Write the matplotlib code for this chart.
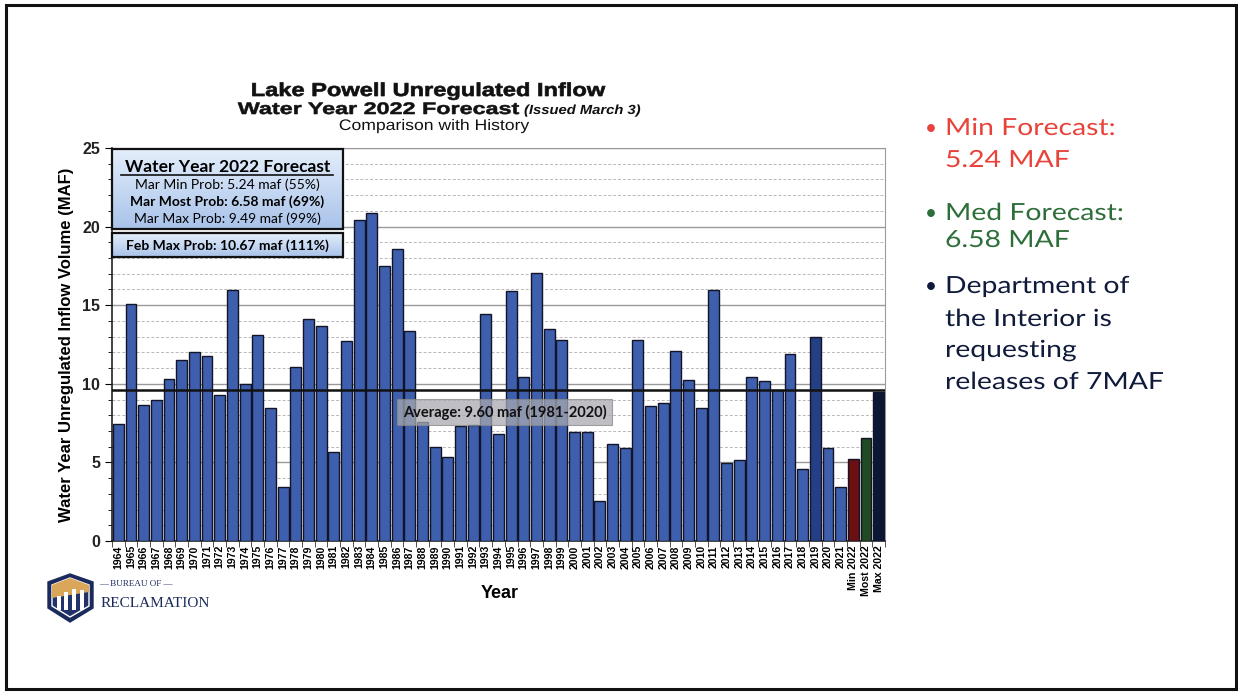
import numpy as np
import matplotlib
matplotlib.use("Agg")
import matplotlib.pyplot as plt
from matplotlib.patches import Rectangle, Polygon, PathPatch
from matplotlib.ticker import MultipleLocator
from matplotlib.textpath import TextPath
from matplotlib.font_manager import FontProperties
from matplotlib.transforms import Affine2D

# ---- data ----
years = [str(y) for y in range(1964, 2022)] + ["Min 2022", "Most 2022", "Max 2022"]
inflow = [7.45, 15.06, 8.65, 8.97, 10.33, 11.51, 12.0, 11.77, 9.29, 15.99,
          9.99, 13.1, 8.44, 3.46, 11.07, 14.14, 13.68, 5.66, 12.74, 20.4,
          20.86, 17.51, 18.55, 13.34, 7.6, 5.96, 5.32, 7.3, 7.38, 14.44,
          6.81, 15.92, 10.41, 17.07, 13.49, 12.79, 6.95, 6.95, 2.57, 6.17,
          5.9, 12.79, 8.61, 8.76, 12.11, 10.24, 8.46, 15.99, 4.96, 5.15,
          10.41, 10.2, 9.6, 11.92, 4.58, 12.96, 5.9, 3.46,
          5.24, 6.58, 9.49]
average = 9.60
forecast_lines = ["Mar Min Prob: 5.24 maf (55%)",
                  "Mar Most Prob: 6.58 maf (69%)",
                  "Mar Max Prob: 9.49 maf (99%)"]
feb_line = "Feb Max Prob: 10.67 maf (111%)"

W, H = 1238, 694
fig = plt.figure(figsize=(W / 100, H / 100), dpi=100)
fig.patch.set_facecolor("white")
pix = Affine2D().scale(1 / W, 1 / H) + fig.transFigure


def fx(x):
    return x / W


def fy(y):
    return 1 - y / H


def wide_text(px, py, s, size, sx, color, ha="left", bold_lw=0, **fkw):
    # text drawn as a path so it can be stretched sideways like the slide
    fp = FontProperties(**fkw)
    tp = TextPath((0, 0), s, size=size * 100 / 72, prop=fp)
    w = tp.get_extents().x1 * sx
    x0 = px - w / 2 if ha == "center" else (px - w if ha == "right" else px)
    path = Affine2D().scale(sx, 1).translate(x0, H - py).transform_path(tp)
    fig.add_artist(PathPatch(path, transform=pix, facecolor=color,
                             edgecolor=color if bold_lw else "none", lw=bold_lw))


# slide border
fig.add_artist(Rectangle((6, H - 689), 1230, 684, transform=pix, fill=False,
                         lw=2.2, edgecolor="#111111"))

ax = fig.add_axes([fx(112), fy(541), fx(885) - fx(112), fy(148) - fy(541)])

colors = ["#3d5fae"] * 58 + ["#6a1010", "#1f4a22", "#0c1736"]
colors[years.index("2019")] = "#243f86"
x = np.arange(len(years))
ax.bar(x, inflow, width=0.86, color=colors, edgecolor="#141428", linewidth=1.0, zorder=3)

ax.set_xlim(-0.5, len(years) - 0.5)
ax.set_ylim(0, 25)
ax.yaxis.set_major_locator(MultipleLocator(5))
ax.yaxis.set_minor_locator(MultipleLocator(1))
ax.grid(axis="y", which="major", color="#9a9a9a", lw=1.0, zorder=0)
ax.grid(axis="y", which="minor", color="#b8b8b8", lw=0.7, ls=(0, (3, 2)), zorder=0)
ax.set_xticks(x)
ax.set_xticklabels(years, rotation=90, fontsize=7.6, fontweight="bold",
                   family="Liberation Sans")
ax.set_xticks(np.arange(-0.5, len(years)), minor=True)
ax.tick_params(axis="x", which="major", length=0, pad=3)
ax.tick_params(axis="x", which="minor", length=4, color="#333333")
ax.tick_params(axis="y", which="major", length=5, labelsize=11.5)
ax.tick_params(axis="y", which="minor", length=3)
for lab in ax.get_yticklabels():
    lab.set_fontweight("bold")
    lab.set_family("Liberation Sans")
    lab.set_color("#222222")
for s in ["top", "right"]:
    ax.spines[s].set_color("#9a9a9a")
for s in ["left", "bottom"]:
    ax.spines[s].set_color("#222222")
    ax.spines[s].set_linewidth(1.2)

ax.set_ylabel("Water Year Unregulated Inflow Volume (MAF)", fontsize=12,
              fontweight="bold", family="Liberation Sans", labelpad=6)
fig.text(fx(500), fy(594), "Year", ha="center", va="center", fontsize=13,
         fontweight="bold", family="Liberation Sans")

# average line and label
ax.axhline(average, color="#111111", lw=1.8, zorder=4)
ax.text(0.508, 0.328, "Average: 9.60 maf (1981-2020)", transform=ax.transAxes,
        ha="center", va="center", fontsize=10.5, fontweight="bold", family="Lato",
        color="#111111", zorder=6,
        bbox=dict(boxstyle="square,pad=0.4", facecolor="#a9a9b0", alpha=0.75,
                  edgecolor="#888888", lw=0.8))

# forecast boxes with light gradient
grad = np.linspace(0, 1, 64).reshape(-1, 1)
cmap = matplotlib.colors.LinearSegmentedColormap.from_list("g", ["#e4eefb", "#a9c3ea"])


def ax_pt(px, py):
    return (px - 112) / 773, (541 - py) / 393


def gbox(x0, y0, x1, y1):
    ax.imshow(grad, extent=[x0, x1, y0, y1], transform=ax.transAxes, cmap=cmap,
              aspect="auto", zorder=7, clip_on=False, origin="upper")
    ax.add_patch(Rectangle((x0, y0), x1 - x0, y1 - y0, transform=ax.transAxes,
                           fill=False, edgecolor="#111111", lw=1.6, zorder=8,
                           clip_on=False))


bx0, by1 = ax_pt(112, 149)
bx1, by0 = ax_pt(343, 229)
gbox(bx0, by0, bx1, by1)
fx0, fy1 = ax_pt(112, 233)
fx1, fy0 = ax_pt(343, 257)
gbox(fx0, fy0, fx1, fy1)

cx = (bx0 + bx1) / 2
ax.text(cx, ax_pt(0, 172)[1], "Water Year 2022 Forecast", transform=ax.transAxes,
        ha="center", va="baseline", fontsize=12.5, fontweight="bold", family="Lato",
        zorder=9)
ax.plot([ax_pt(121, 0)[0], ax_pt(333, 0)[0]], [ax_pt(0, 175)[1]] * 2,
        transform=ax.transAxes, color="#111111", lw=1.2, zorder=9, clip_on=False)
for line, py, wt in zip(forecast_lines, [189, 206, 223], ["normal", "bold", "normal"]):
    ax.text(cx, ax_pt(0, py)[1], line, transform=ax.transAxes, ha="center",
            va="baseline", fontsize=10, fontweight=wt, family="Lato", zorder=9)
ax.text(cx, ax_pt(0, 250)[1], feb_line, transform=ax.transAxes, ha="center",
        va="baseline", fontsize=10, fontweight="bold", family="Lato", zorder=9)

# titles
wide_text(428, 96, "Lake Powell Unregulated Inflow", 13.5, 1.26, "#111111",
          ha="center", bold_lw=0.5, family="Liberation Sans", weight="bold")
wide_text(519, 114, "Water Year 2022 Forecast", 12.0, 1.4, "#111111",
          ha="right", bold_lw=0.4, family="Liberation Sans", weight="bold")
wide_text(524, 114, "(Issued March 3)", 9.5, 1.12, "#111111",
          family="Liberation Sans", weight="bold", style="italic")
wide_text(434, 130, "Comparison with History", 11, 1.15, "#111111",
          ha="center", family="Liberation Sans")

# right side bullets
red, green, navy = "#e8433b", "#2e6e3a", "#101a3a"
bullets = [
    ("Min Forecast:", 135, red, True), ("5.24 MAF", 167, red, False),
    ("Med Forecast:", 220, green, True), ("6.58 MAF", 247, green, False),
    ("Department of", 293, navy, True), ("the Interior is", 326, navy, False),
    ("requesting", 357, navy, False), ("releases of 7MAF", 389, navy, False),
]
for txt, py, c, has_bullet in bullets:
    wide_text(945, py, txt, 17, 1.2, c, family="Lato")
    if has_bullet:
        fig.text(fx(925), fy(py), "\u2022", ha="left", va="baseline", fontsize=15,
                 family="Lato", color=c)

# Bureau of Reclamation logo (simplified shield)
shield = [(48, 582), (70, 574), (93, 582), (93, 608), (70, 622), (48, 608)]
fig.add_artist(Polygon([(a, H - b) for a, b in shield], closed=True, transform=pix,
                       facecolor="#1b2a5c", edgecolor="#1b2a5c", lw=1))
inner = [(52, 585), (70, 578), (89, 585), (89, 606), (70, 617), (52, 606)]
fig.add_artist(Polygon([(a, H - b) for a, b in inner], closed=True, transform=pix,
                       facecolor="#22336b", edgecolor="white", lw=1))
gold = [(52, 585), (70, 578), (89, 585), (89, 592), (52, 598)]
fig.add_artist(Polygon([(a, H - b) for a, b in gold], closed=True, transform=pix,
                       facecolor="#d9a65a", lw=0))
for px0, ptop in [(57, 596), (64, 592), (72, 589), (80, 590)]:
    fig.add_artist(Rectangle((px0, H - 610), 4, 610 - ptop, transform=pix,
                             facecolor="white", lw=0))
fig.text(fx(136), fy(586), "\u2014 BUREAU OF \u2014", ha="center", va="baseline",
         fontsize=6.5, family="Liberation Serif", color="#1b2a5c")
fig.text(fx(101), fy(607), "RECLAMATION", ha="left", va="baseline", fontsize=11,
         family="Liberation Serif", color="#1b2a5c")

fig.savefig("out.png", dpi=100)
